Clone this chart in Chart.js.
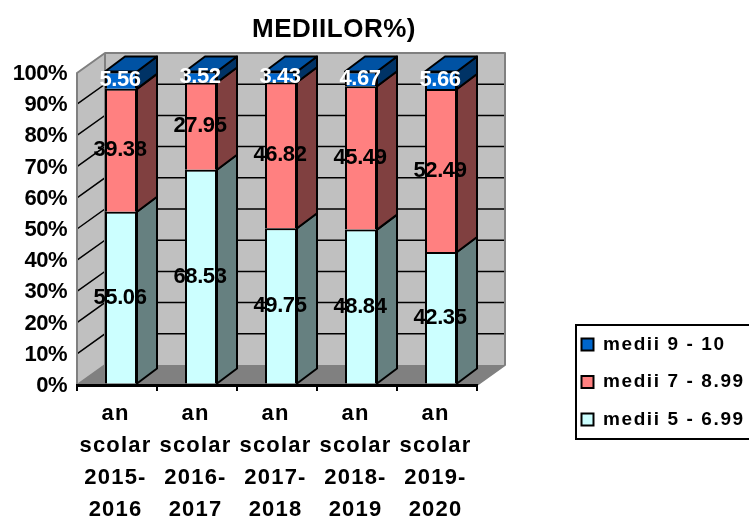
<!DOCTYPE html>
<html><head><meta charset="utf-8">
<style>html,body{margin:0;padding:0;background:#fff}#w{width:749px;height:518px}</style>
<script src="https://cdn.jsdelivr.net/npm/chart.js@4"></script></head>
<body><div id="w"><canvas id="c" width="749" height="518"></canvas></div>
<script>
const categories=[["an","scolar","2015-","2016"],["an","scolar","2016-","2017"],["an","scolar","2017-","2018"],["an","scolar","2018-","2019"],["an","scolar","2019-","2020"]];
const medii5=[55.06,68.53,49.75,48.84,42.35];
const medii7=[39.38,27.95,46.82,45.49,52.49];
const medii9=[5.56,3.52,3.43,4.67,5.66];
const yTicks=[0,10,20,30,40,50,60,70,80,90,100];
const chartTitle="MEDIILOR%)";
const totals=medii5.map((v,i)=>v+medii7[i]+medii9[i]);
const share=a=>a.map((v,i)=>v/totals[i]*100);
const F="'Liberation Sans',Arial,sans-serif";
const WALL={dx:28,dy:-20}, BAR={dx:20,dy:-15,shiftX:4,shiftY:-1.5};
const raw=[medii5,medii7,medii9];
const faces=[{front:'#CCFFFF',side:'#668080'},{front:'#FF8080',side:'#804040'},{front:'#0066CC',side:'#003366',top:'#0052A3'}];
function poly(ctx,p,fill,stroke,lw){ctx.beginPath();p.forEach((q,i)=>i?ctx.lineTo(q[0],q[1]):ctx.moveTo(q[0],q[1]));ctx.closePath();
 if(fill){ctx.fillStyle=fill;ctx.fill();} if(stroke){ctx.strokeStyle=stroke;ctx.lineWidth=lw;ctx.lineJoin='round';ctx.stroke();}}
function spaced(obj,name,sp,dx,dy){const o=obj[name];obj[name]=function(...a){const c=this.ctx||this.chart.ctx;c.save();c.letterSpacing=sp;c.translate(dx||0,dy||0);o.apply(this,a);c.restore();};}
const plugin={id:'three',
 afterLayout(ch){
  if(!ch.$w){ch.$w=1;spaced(ch.scales.x,'drawLabels','1.2px',-1.5,0.5);spaced(ch.scales.y,'drawLabels','-0.5px',0,1);spaced(ch.titleBlock,'draw','0.5px');spaced(ch.legend,'draw','1.6px');}
  const t=ch.titleBlock;t.left=234;t.right=434;
  const l=ch.legend;l.left=563;l.right=800;l.top=316.5;l.bottom=600;l.adjustHitBoxes();
 },
 beforeDraw(ch){
  const c=ch.ctx,{left:L,right:R}=ch.chartArea,y=ch.scales.y;
  const b=y.getPixelForValue(0),t=y.getPixelForValue(100),dx=WALL.dx,dy=WALL.dy;
  c.save();
  poly(c,[[L+dx,t+dy],[R+dx,t+dy],[R+dx,b+dy],[L+dx,b+dy]],'#C0C0C0');
  poly(c,[[L,t],[L+dx,t+dy],[L+dx,b+dy],[L,b]],'#C0C0C0');
  poly(c,[[L,b],[L+dx,b+dy],[R+dx,b+dy],[R,b]],'#808080');
  c.strokeStyle='#000';c.lineWidth=1.5;
  yTicks.slice(1,-1).forEach(v=>{const p=y.getPixelForValue(v);c.beginPath();c.moveTo(L,p);c.lineTo(L+dx,p+dy);c.lineTo(R+dx,p+dy);c.stroke();});
  c.strokeStyle='#808080';c.lineWidth=2;c.lineJoin='round';
  c.beginPath();c.moveTo(L,b);c.lineTo(L,t);c.lineTo(L+dx,t+dy);c.lineTo(R+dx,t+dy);c.lineTo(R+dx,b+dy);c.lineTo(R,b);c.stroke();
  c.beginPath();c.moveTo(L+dx,t+dy);c.lineTo(L+dx,b+dy);c.lineTo(L,b);c.stroke();
  c.restore();
 },
 beforeDatasetsDraw(ch){
  const c=ch.ctx;c.save();c.translate(BAR.shiftX,BAR.shiftY);
  const n=ch.data.datasets.length;
  medii5.forEach((_,i)=>{for(let d=0;d<n;d++){
   const e=ch.getDatasetMeta(d).data[i];const r=e.x+e.width/2,l=e.x-e.width/2;
   poly(c,[[r,e.base],[r+BAR.dx,e.base+BAR.dy],[r+BAR.dx,e.y+BAR.dy],[r,e.y]],faces[d].side,'#000',2);
   if(d==n-1)poly(c,[[l,e.y],[l+BAR.dx,e.y+BAR.dy],[r+BAR.dx,e.y+BAR.dy],[r,e.y]],faces[d].top,'#000',2);
  }});
 },
 afterDatasetsDraw(ch){
  const c=ch.ctx;c.restore();c.save();
  c.font='bold 22px '+F;c.textAlign='center';c.textBaseline='middle';c.letterSpacing='-0.4px';
  raw.forEach((arr,d)=>{const m=ch.getDatasetMeta(d);c.fillStyle=d==2?'#fff':'#000';
   arr.forEach((v,i)=>{const e=m.data[i];c.fillText(v.toFixed(2),e.x+BAR.shiftX-1,(e.y+e.base)/2+BAR.shiftY);});});
  c.restore();
 },
 afterDraw(ch){const c=ch.ctx;c.save();c.strokeStyle='#000';c.lineWidth=2;c.strokeRect(576,325,174,114);c.restore();}
};
new Chart(document.getElementById('c'),{type:'bar',
 data:{labels:categories,datasets:[
  {label:'medii 5 - 6.99',data:share(medii5),backgroundColor:faces[0].front},
  {label:'medii 7 - 8.99',data:share(medii7),backgroundColor:faces[1].front},
  {label:'medii 9 - 10',data:share(medii9),backgroundColor:faces[2].front}
 ].map(d=>({...d,borderColor:'#000',borderWidth:2,barPercentage:0.4,categoryPercentage:1,clip:false}))},
 plugins:[plugin],
 options:{responsive:false,animation:false,events:[],
  layout:{padding:{top:0,right:113,bottom:0,left:0}},
  plugins:{
   tooltip:{enabled:false},
   title:{display:true,text:chartTitle,color:'#000',font:{family:F,size:26,weight:'bold',lineHeight:1.2},padding:{top:14.4,bottom:27.4}},
   legend:{position:'right',align:'start',reverse:true,labels:{color:'#000',boxWidth:12,boxHeight:12,padding:18.5,font:{family:F,size:19,weight:'bold'}}}
  },
  scales:{
   x:{stacked:true,afterFit(s){s.height=133;},
    border:{color:'#000',width:3},
    grid:{display:true,drawOnChartArea:false,color:'#000',lineWidth:2,tickLength:6,offset:true},
    ticks:{color:'#000',padding:6.7,maxRotation:0,autoSkip:false,font:{family:F,size:22,weight:'bold',lineHeight:1.4545}}},
   y:{stacked:true,min:0,max:100,afterFit(s){s.width=77;},
    border:{display:false},grid:{display:false,drawTicks:false},
    afterBuildTicks(s){s.ticks=yTicks.map(value=>({value}));},
    ticks:{color:'#000',padding:10,callback:v=>v+'%',font:{family:F,size:22,weight:'bold'}}}
  }}
});
</script></body></html>
